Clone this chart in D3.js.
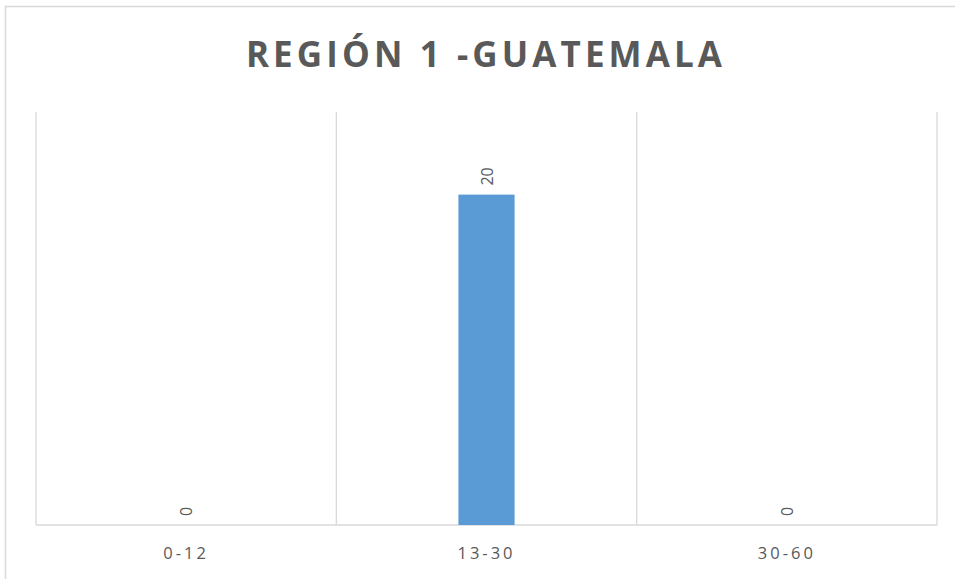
<!DOCTYPE html>
<html><head><meta charset="utf-8">
<script src="https://cdn.jsdelivr.net/npm/d3@7"></script>
<style>body{margin:0;background:#fff;}svg{display:block;font-family:Calibri,Carlito,"Open Sans",sans-serif;}</style>
</head><body>
<svg id="c" width="955" height="579"></svg>
<script>
const categories = ["0-12", "13-30", "30-60"];
const values = [0, 20, 0];
const title = "REGIÓN 1 -GUATEMALA";
const yMax = 25;

const svg = d3.select("#c");
const W = 955, H = 579;
const m = {left: 36, right: 18, top: 112, bottom: 54};
const pw = W - m.left - m.right, ph = H - m.top - m.bottom;

// outer border
svg.append("rect").attr("x", 5.5).attr("y", 6.5).attr("width", 1000).attr("height", 1000)
  .attr("fill", "none").attr("stroke", "#d9d9d9").attr("stroke-width", 1.5);

svg.append("text").attr("x", 486).attr("y", 67).attr("text-anchor", "middle")
  .attr("font-size", 35).attr("font-weight", "bold").attr("fill", "#595959")
  .attr("letter-spacing", 4.1).attr("font-family", "'Open Sans',sans-serif").text(title);

const x = d3.scaleBand().domain(categories).range([m.left, m.left + pw]).paddingInner(0).paddingOuter(0);
const y = d3.scaleLinear().domain([0, yMax]).range([m.top + ph, m.top]);

const g = svg.append("g");
// category boundary gridlines
const bounds = categories.map(c => x(c)).concat([x(categories[categories.length-1]) + x.bandwidth()]);
g.selectAll("line.grid").data(bounds).join("line")
  .attr("x1", d => d).attr("x2", d => d).attr("y1", m.top).attr("y2", m.top + ph)
  .attr("stroke", "#d9d9d9").attr("stroke-width", 1.3);
// axis line
g.append("line").attr("x1", m.left).attr("x2", m.left + pw).attr("y1", m.top + ph).attr("y2", m.top + ph)
  .attr("stroke", "#d9d9d9").attr("stroke-width", 1.3);

const bw = x.bandwidth() * 0.187;
g.selectAll("rect.bar").data(values).join("rect")
  .attr("x", (d, i) => x(categories[i]) + x.bandwidth()/2 - bw/2)
  .attr("width", bw)
  .attr("y", d => y(d)).attr("height", d => y(0) - y(d))
  .attr("fill", "#5b9bd5");

g.selectAll("text.val").data(values).join("text")
  .attr("transform", (d, i) => `translate(${x(categories[i]) + x.bandwidth()/2 + 6},${y(d) - 9}) rotate(-90)`)
  .attr("text-anchor", "start").attr("font-size", 16).attr("fill", "#595959")
  .attr("font-family", "'Open Sans',sans-serif").text(d => d);

g.selectAll("text.cat").data(categories).join("text")
  .attr("x", d => x(d) + x.bandwidth()/2).attr("y", m.top + ph + 34)
  .attr("text-anchor", "middle").attr("font-size", 16.5).attr("fill", "#595959")
  .attr("letter-spacing", 3).attr("font-family", "'Open Sans',sans-serif").text(d => d);
</script>
</body></html>
